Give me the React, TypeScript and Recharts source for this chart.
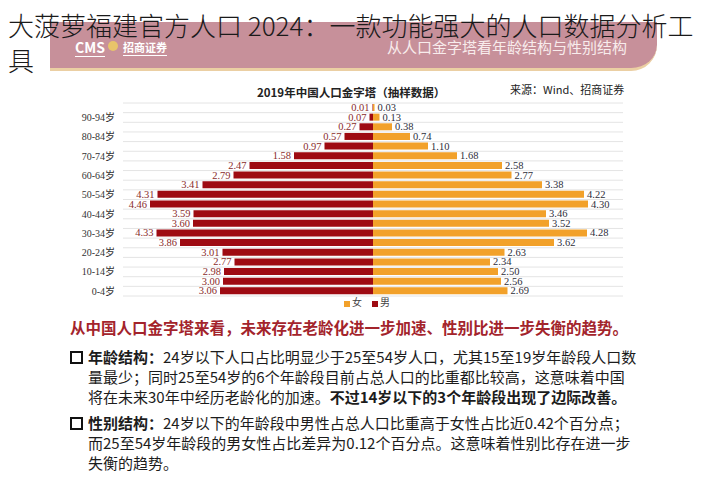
import React from 'react';
import {
  BarChart,
  Bar,
  XAxis,
  YAxis,
  CartesianGrid,
  Legend,
  LabelList,
} from 'recharts';

// age groups, bottom (0-4) to top (95+)
const AGE_GROUPS = [
  '0-4岁', '5-9岁', '10-14岁', '15-19岁', '20-24岁', '25-29岁', '30-34岁',
  '35-39岁', '40-44岁', '45-49岁', '50-54岁', '55-59岁', '60-64岁', '65-69岁',
  '70-74岁', '75-79岁', '80-84岁', '85-89岁', '90-94岁', '95岁以上',
];

// share of total population, %
const FEMALE = [
  2.69, 2.56, 2.50, 2.34, 2.63, 3.62, 4.28, 3.52, 3.46, 4.30,
  4.22, 3.38, 2.77, 2.58, 1.68, 1.10, 0.74, 0.38, 0.13, 0.03,
];
const MALE = [
  3.06, 3.00, 2.98, 2.77, 3.01, 3.86, 4.33, 3.60, 3.59, 4.46,
  4.31, 3.41, 2.79, 2.47, 1.58, 0.97, 0.57, 0.27, 0.07, 0.01,
];

const COLORS = {
  female: '#F2A12A',
  male: '#9E0B12',
};

const SERIF = '"Liberation Serif", "Noto Sans CJK SC", serif';
const CJK = '"Noto Sans CJK SC", sans-serif';

const chartData = AGE_GROUPS.map((age, i) => ({
  age,
  female: FEMALE[i],
  male: -MALE[i], // males drawn to the left
}));

// value labels sitting just outside the bar ends
const MaleLabel = (props: any) => {
  const { x, y, width, height, value } = props;
  const left = Math.min(x, x + width);
  return (
    <text x={left - 3} y={y + height / 2} textAnchor="end" dominantBaseline="central"
      fontSize={10.5} fontFamily={SERIF} fill="#8A2C2C">
      {Math.abs(value).toFixed(2)}
    </text>
  );
};

const FemaleLabel = (props: any) => {
  const { x, y, width, height, value } = props;
  const right = Math.max(x, x + width);
  return (
    <text x={right + 3} y={y + height / 2} textAnchor="start" dominantBaseline="central"
      fontSize={10.5} fontFamily={SERIF} fill="#2E2E3A">
      {Number(value).toFixed(2)}
    </text>
  );
};

// grid lines between the age bands rather than through their centres
const bandLines = ({ offset }: any) => {
  const n = AGE_GROUPS.length;
  const step = offset.height / n;
  return Array.from({ length: n + 1 }, (_, i) => offset.top + i * step);
};

const Pyramid = () => (
  <BarChart
    width={707}
    height={320}
    data={chartData}
    layout="vertical"
    stackOffset="sign"
    margin={{ top: 103, right: 84, left: 63, bottom: 10 }}
    barSize={7}
  >
    <CartesianGrid vertical={false} stroke="#E4E4E4" horizontalCoordinatesGenerator={bandLines} />
    <XAxis type="number" domain={[-5, 5]} hide />
    <YAxis
      type="category"
      dataKey="age"
      reversed
      width={60}
      interval={1}
      axisLine={false}
      tickLine={false}
      tick={{ fontSize: 10, fontFamily: SERIF, fill: '#333' }}
    />
    <Legend
      iconType="square"
      iconSize={6}
      height={14}
      wrapperStyle={{ left: 344, width: 'auto', lineHeight: '14px', fontSize: 10, fontFamily: SERIF }}
      formatter={(value) => <span style={{ color: '#444', marginLeft: -2 }}>{value}</span>}
    />
    <Bar dataKey="female" name="女" stackId="p" fill={COLORS.female} isAnimationActive={false}>
      <LabelList dataKey="female" content={FemaleLabel} />
    </Bar>
    <Bar dataKey="male" name="男" stackId="p" fill={COLORS.male} isAnimationActive={false}>
      <LabelList dataKey="male" content={MaleLabel} />
    </Bar>
  </BarChart>
);

const Bullet = ({ top, lines }: { top: number; lines: React.ReactNode[] }) => (
  <div style={{ position: 'absolute', left: 70, top, fontFamily: CJK, fontSize: 15, color: '#1c1c1c' }}>
    <div style={{ position: 'absolute', left: 0, top: 4, width: 9, height: 9, border: '2px solid #111' }} />
    {lines.map((l, i) => (
      <div key={i} style={{ marginLeft: 18, height: 20, lineHeight: '20px', whiteSpace: 'nowrap' }}>{l}</div>
    ))}
  </div>
);

export default function App() {
  return (
    <div style={{ position: 'absolute', left: 0, top: 0, width: 707, height: 500, background: '#fff', overflow: 'hidden' }}>
      {/* slide header band */}
      <div style={{
        position: 'absolute', left: 50, top: 22, width: 607, height: 46,
        background: '#C7909A', borderBottom: '3px solid #EBCFA3', borderBottomRightRadius: 26,
      }} />
      <div style={{ position: 'absolute', left: 75, top: 38, color: '#fff', fontFamily: CJK, fontWeight: 700, fontSize: 14, lineHeight: '18px', borderBottom: '1px solid #fff' }}>CMS</div>
      <div style={{ position: 'absolute', left: 108, top: 41, width: 10, height: 10, borderRadius: 5, background: '#E8C46A' }} />
      <div style={{ position: 'absolute', left: 123, top: 39, color: '#fff', fontFamily: CJK, fontWeight: 700, fontSize: 11, lineHeight: '16px', borderBottom: '1px solid #fff' }}>招商证券</div>
      <div style={{ position: 'absolute', left: 387, top: 37, color: '#F8ECEC', fontFamily: CJK, fontSize: 15, lineHeight: '20px' }}>从人口金字塔看年龄结构与性别结构</div>

      {/* page title over the header */}
      <div style={{ position: 'absolute', left: 8, top: 7, width: 695, fontFamily: CJK, fontWeight: 300, fontSize: 26, lineHeight: '35px', color: '#1a1a1a' }}>
        大菠萝福建官方人口 2024：一款功能强大的人口数据分析工具
      </div>

      <div style={{ position: 'absolute', left: 0, top: 0 }}>
        <Pyramid />
      </div>
      <div style={{ position: 'absolute', left: 257, top: 84, fontFamily: CJK, fontWeight: 700, fontSize: 11.5, lineHeight: '16px', color: '#222' }}>
        2019年中国人口金字塔（抽样数据）
      </div>
      <div style={{ position: 'absolute', left: 510, top: 81, fontFamily: CJK, fontSize: 11, lineHeight: '16px', color: '#222' }}>
        来源：Wind、招商证券
      </div>

      <div style={{ position: 'absolute', left: 70, top: 316, fontFamily: CJK, fontWeight: 700, fontSize: 15.5, lineHeight: '22px', color: '#A3242C', whiteSpace: 'nowrap' }}>
        从中国人口金字塔来看，未来存在老龄化进一步加速、性别比进一步失衡的趋势。
      </div>

      <Bullet top={347} lines={[
        <><b>年龄结构：</b>24岁以下人口占比明显少于25至54岁人口，尤其15至19岁年龄段人口数</>,
        <>量最少；同时25至54岁的6个年龄段目前占总人口的比重都比较高，这意味着中国</>,
        <>将在未来30年中经历老龄化的加速。<b>不过14岁以下的3个年龄段出现了边际改善。</b></>,
      ]} />
      <Bullet top={413} lines={[
        <><b>性别结构：</b>24岁以下的年龄段中男性占总人口比重高于女性占比近0.42个百分点；</>,
        <>而25至54岁年龄段的男女性占比差异为0.12个百分点。这意味着性别比存在进一步</>,
        <>失衡的趋势。</>,
      ]} />
    </div>
  );
}
